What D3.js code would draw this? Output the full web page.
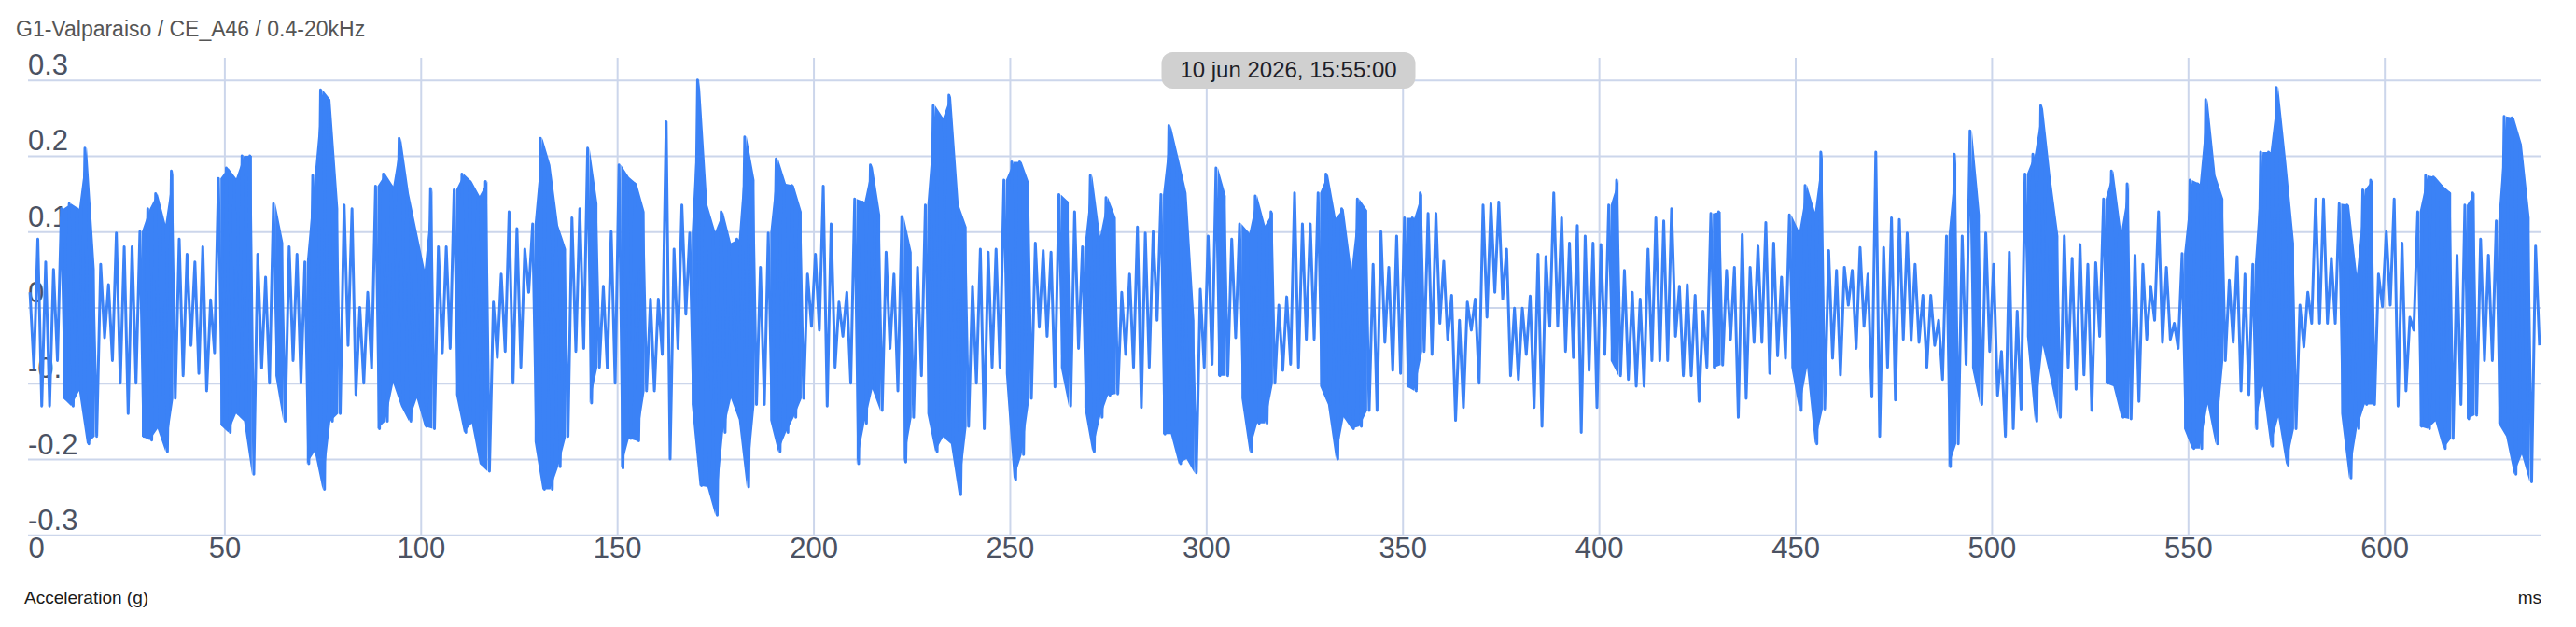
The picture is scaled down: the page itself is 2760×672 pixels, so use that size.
<!DOCTYPE html>
<html>
<head>
<meta charset="utf-8">
<script src="https://cdn.jsdelivr.net/npm/d3@7"></script>
<style>
  body { margin: 0; background: #fff; }
  text { font-family: "Liberation Sans", Arial, Helvetica, sans-serif; }
</style>
</head>
<body>
<div id="chart"></div>
<script>
// Texts
var chartTitle = "G1-Valparaiso / CE_A46 / 0.4-20kHz";
var stampText = "10 jun 2026, 15:55:00";
var yTitle = "Acceleration (g)";
var xUnit = "ms";

// Ticks
var xTicks = [0, 50, 100, 150, 200, 250, 300, 350, 400, 450, 500, 550, 600];
var yTicks = [0.3, 0.2, 0.1, 0, -0.1, -0.2, -0.3];
var yTickLabels = ["0.3", "0.2", "0.1", "0", "-0.1", "-0.2", "-0.3"];

// Waveform: highest and lowest value in each 2 ms slot (g)
var binMs = 2;
var accHigh = [
  0.02, 0.09, 0.06, 0.05, 0.13, 0.137, 0.13, 0.21, 0.05, 0.057,
  0.03, 0.098, 0.08, 0.08, 0.1, 0.13, 0.15, 0.11, 0.18, 0.09,
  0.07, 0.06, 0.08, 0.01, 0.17, 0.184, 0.17, 0.2, 0.2, 0.07,
  0.04, 0.137, 0.085, 0.08, 0.07, 0.06, 0.174, 0.287, 0.274, 0.13,
  0.135, 0.13, 0.0, 0.02, 0.16, 0.176, 0.16, 0.223, 0.15, 0.1,
  0.05, 0.157, 0.08,
  0.08, 0.155, 0.176, 0.166, 0.147, 0.166, 0.007, 0.044, 0.126, 0.104,
  0.077, 0.11, 0.223, 0.188, 0.108, 0.077, 0.118, 0.13, 0.21, 0.137,
  0.028, 0.1, 0.188, 0.172, 0.163, 0.126, 0.011, 0.011, 0.245, 0.077,
  0.135, 0.098, 0.3, 0.135, 0.1, 0.126, 0.085, 0.09, 0.225, 0.168,
  0.053, 0.098, 0.196, 0.163, 0.161, 0.126, 0.044, 0.07, 0.16, 0.11,
  0.007, 0.02, 0.143,
  0.139, 0.188, 0.122, 0.073, 0.044, 0.12, 0.073, 0.053, 0.135, 0.266,
  0.25, 0.28, 0.135, 0.106, 0.028, 0.077, 0.073, 0.077, 0.168, 0.192,
  0.192, 0.163, 0.085, 0.075, 0.073, 0.149, 0.139, 0.126, 0.08, 0.174,
  0.094, 0.145, 0.118, 0.02, 0.044, 0.106, 0.098, 0.1, 0.149, 0.24,
  0.196, 0.151, -0.017, 0.024, 0.094, 0.184, 0.147, 0.09, 0.11, 0.098,
  0.147, 0.108, 0.126,
  0.003, 0.014, 0.151, 0.11, 0.11, 0.151, 0.176, 0.118, 0.13, 0.05,
  0.143, 0.128, 0.057, 0.1, 0.053, 0.094, 0.118, 0.118, 0.151, 0.124,
  0.124, 0.061, 0.016, -0.017, 0.007, 0.011, 0.135, 0.137, 0.139, 0.077,
  -0.001, -0.001, 0.015, 0.07, 0.067, 0.151, 0.118, 0.085, 0.108, 0.094,
  0.085, 0.083, 0.135, 0.168, 0.049, 0.02, 0.011, 0.077, 0.118, 0.114,
  0.13, 0.028, 0.03,
  0.016, -0.005, 0.124, 0.126, 0.049, 0.053, 0.096, 0.053, 0.081, 0.112,
  0.085, 0.04, 0.122, 0.1, 0.161, 0.126, 0.205, 0.075, 0.049, 0.053,
  0.049, 0.079, 0.044, 0.205, 0.079, 0.118, 0.116, 0.098, 0.057, 0.016,
  0.016, -0.017, 0.094, 0.202, 0.094, 0.233, 0.122, 0.098, 0.057, -0.058,
  0.073, -0.005, 0.176, 0.202, 0.266, 0.172, 0.094, 0.094, 0.065, 0.083,
  0.057, 0.059, 0.143,
  0.18, 0.1, 0.163, 0.069, 0.057, 0.028, 0.126, 0.053, -0.021, 0.071,
  0.168, 0.163, 0.274, 0.174, 0.143, 0.036, 0.067, 0.044, 0.057, 0.205,
  0.205, 0.29, 0.192, 0.085, 0.003, 0.02, 0.143, 0.143, 0.065, 0.137,
  0.135, 0.044, 0.155, 0.168, 0.044, 0.1, 0.143, 0.085, -0.013, 0.126,
  0.174, 0.172, 0.16, 0.151, 0.069, 0.135, 0.151, 0.09, 0.069, 0.114,
  0.252, 0.25, 0.215, 0.118, 0.081
];
var accLow = [
  -0.08, -0.13, -0.13, -0.07, -0.12, -0.13, -0.11, -0.18, -0.17, -0.04,
  -0.07, -0.1, -0.14, -0.1, -0.17, -0.175, -0.16, -0.19, -0.12, -0.09,
  -0.05, -0.087, -0.11, -0.06, -0.155, -0.165, -0.14, -0.15, -0.22, -0.08,
  -0.1, -0.09, -0.15, -0.07, -0.1, -0.206, -0.19, -0.24, -0.15, -0.14,
  -0.05, -0.115, -0.1, -0.08, -0.16, -0.15, -0.1, -0.13, -0.15, -0.12,
  -0.157, -0.16, -0.06,
  -0.054, -0.115, -0.165, -0.153, -0.206, -0.216, -0.066, -0.058, -0.1, -0.079,
  0.02, -0.177, -0.24, -0.24, -0.21, -0.17, -0.058, -0.054, -0.126, -0.079,
  -0.08, -0.1, -0.212, -0.173, -0.176, -0.11, -0.11, -0.062, -0.2, -0.054,
  -0.009, -0.128, -0.235, -0.237, -0.274, -0.165, -0.12, -0.148, -0.237, -0.128,
  -0.128, -0.149, -0.19, -0.165, -0.145, -0.12, -0.025, -0.03, -0.13, -0.079,
  -0.038, -0.1, -0.206,
  -0.153, -0.108, -0.136, -0.054, -0.11, -0.204, -0.145, -0.09, -0.14, -0.19,
  -0.171, -0.18, -0.247, -0.157, -0.1, -0.16, -0.079, -0.079, -0.087, -0.227,
  -0.194, -0.12, -0.026, -0.038, -0.105, -0.079, -0.13, -0.054, -0.132, -0.19,
  -0.145, -0.116, -0.114, -0.062, -0.079, -0.132, -0.079, -0.017, -0.167, -0.167,
  -0.206, -0.2, -0.218, -0.079, -0.075, -0.09, -0.09, -0.04, -0.12, -0.19,
  -0.153, -0.153, -0.1,
  -0.083, -0.075, -0.079, -0.042, -0.042, -0.104, -0.128, -0.2, -0.145, -0.16,
  -0.157, -0.136, -0.136, -0.046, -0.083, -0.087, -0.104, -0.11, -0.058, -0.062,
  -0.021, -0.042, -0.149, -0.132, -0.03, -0.1, -0.013, 0.02, 0.011, -0.09,
  -0.095, -0.062, -0.132, -0.157, -0.025, -0.025, -0.058, -0.066, -0.165, -0.083,
  -0.132, -0.062, -0.07, -0.09, -0.095, -0.104, -0.104, -0.07, -0.07, -0.07,
  -0.038, -0.09, -0.09,
  -0.124, -0.079, -0.08, -0.076, -0.042, -0.145, -0.12, -0.046, -0.046, -0.087,
  -0.064, -0.067, -0.079, -0.136, -0.079, -0.18, -0.134, -0.067, -0.089, 0.003,
  -0.054, -0.025, -0.118, -0.17, -0.079, -0.122, -0.042, -0.044, -0.046, -0.079,
  -0.05, -0.095, -0.21, -0.18, -0.075, -0.079, -0.128, -0.058, -0.116, -0.17,
  -0.16, -0.134, -0.038, -0.15, -0.05, -0.095, -0.145, -0.079, -0.108, -0.089,
  -0.136, -0.038, -0.1,
  -0.104, -0.145, -0.147, -0.124, -0.042, -0.017, -0.046, -0.042, -0.054, -0.16,
  -0.186, -0.186, -0.128, -0.18, -0.07, -0.046, -0.11, -0.115, -0.16, -0.104,
  -0.183, -0.145, -0.208, -0.16, -0.052, -0.021, -0.021, -0.021, -0.021, -0.14,
  -0.225, -0.16, -0.128, -0.128, 0.001, 0.003, -0.13, -0.11, -0.03, -0.157,
  -0.16, -0.15, -0.186, -0.173, -0.128, -0.147, -0.142, -0.07, -0.07, -0.153,
  -0.17, -0.22, -0.194, -0.23, -0.05
];

var width = 2760, height = 672;
var plotLeft = 30, plotRight = 2723, plotTop = 85.7, plotBottom = 573.3, gridTop = 62;
var gridColor = "#ccd6eb", labelColor = "#4b5262", lineColor = "#3b82f6";
var burstSpan = 0.2; // slots swinging wider than this read as solid bursts

var x = d3.scaleLinear().domain([0, 640]).range([plotLeft, plotRight]);
var y = d3.scaleLinear().domain([-0.3, 0.3]).range([plotBottom, plotTop]);

// zigzag through the peaks of each slot, one high and one low per slot
var points = [];
accHigh.forEach(function(v, i) {
  points.push({t: i * binMs + 0.5, g: v});
  points.push({t: i * binMs + 1.5, g: accLow[i]});
});
var bins = accHigh.map(function(v, i) { return {t: i * binMs + 1, hi: v, lo: accLow[i]}; });

var svg = d3.select("#chart").append("svg")
  .attr("width", width)
  .attr("height", height)
  .style("display", "block");

svg.append("rect").attr("width", width).attr("height", height).attr("fill", "#fff");

// Title
svg.append("text")
  .attr("x", 17).attr("y", 39)
  .style("font-size", "23px")
  .attr("fill", "#555")
  .text(chartTitle);

// x axis: labels + vertical grid lines
var xAxis = svg.append("g")
  .attr("transform", "translate(0," + plotBottom + ")")
  .call(d3.axisBottom(x).tickValues(xTicks).tickSize(-(plotBottom - gridTop)).tickFormat(d3.format("d")));
xAxis.select(".domain").remove();
xAxis.selectAll(".tick line")
  .attr("stroke", gridColor).attr("stroke-width", 2)
  .attr("display", function(d) { return d === 0 ? "none" : null; });
xAxis.selectAll(".tick text")
  .attr("y", 25).attr("dy", null)
  .attr("fill", labelColor)
  .style("font-size", "31px")
  .attr("text-anchor", function(d) { return d === 0 ? "start" : "middle"; });

// y axis: labels sit above their grid lines, on the left
var yAxis = svg.append("g")
  .attr("transform", "translate(" + plotLeft + ",0)")
  .call(d3.axisRight(y).tickValues(yTicks).tickSize(plotRight - plotLeft)
    .tickFormat(function(d, i) { return yTickLabels[i]; }));
yAxis.select(".domain").remove();
yAxis.selectAll(".tick line").attr("stroke", gridColor).attr("stroke-width", 2);
yAxis.selectAll(".tick text")
  .attr("x", 0).attr("y", -6).attr("dy", null)
  .attr("text-anchor", "start")
  .attr("fill", labelColor)
  .style("font-size", "31px");

// Waveform: dense bursts filled, the rest as a plain line
svg.append("path")
  .datum(bins)
  .attr("fill", lineColor)
  .attr("d", d3.area()
    .defined(function(d) { return d.hi - d.lo > burstSpan; })
    .x(function(d) { return x(d.t); })
    .y0(function(d) { return y(d.lo); })
    .y1(function(d) { return y(d.hi); }));

svg.append("path")
  .datum(points)
  .attr("fill", "none")
  .attr("stroke", lineColor)
  .attr("stroke-width", 3)
  .attr("stroke-linejoin", "round")
  .attr("d", d3.line()
    .x(function(d) { return x(d.t); })
    .y(function(d) { return y(d.g); }));

// Axis captions
svg.append("text")
  .attr("x", 26).attr("y", 647)
  .style("font-size", "19px")
  .attr("fill", "#1a1a1a")
  .text(yTitle);
svg.append("text")
  .attr("x", plotRight).attr("y", 647)
  .attr("text-anchor", "end")
  .style("font-size", "19px")
  .attr("fill", "#1a1a1a")
  .text(xUnit);

// Timestamp label
var stampX = (plotLeft + plotRight) / 2 + 4;
svg.append("rect")
  .attr("x", stampX - 136).attr("y", 56)
  .attr("width", 272).attr("height", 39)
  .attr("rx", 12)
  .attr("fill", "#d0d0d0");
svg.append("text")
  .attr("x", stampX).attr("y", 83)
  .attr("text-anchor", "middle")
  .style("font-size", "24px")
  .attr("fill", "#1e1e28")
  .text(stampText);
</script>
</body>
</html>
